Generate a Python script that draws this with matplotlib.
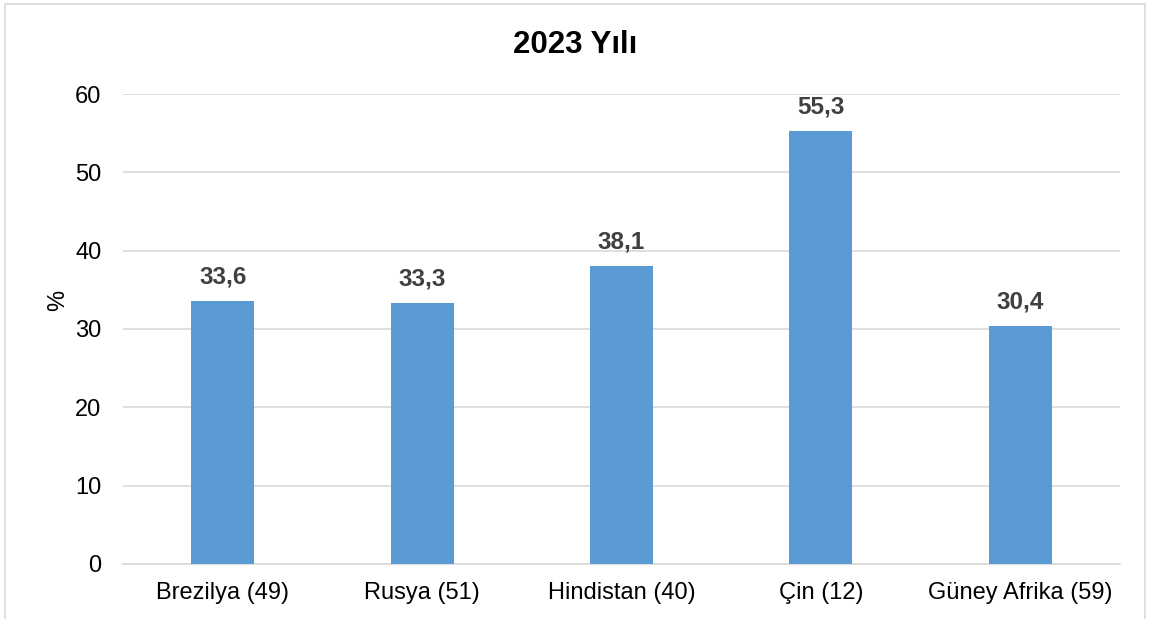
import matplotlib.pyplot as plt
from matplotlib.patches import Rectangle

plt.rcParams['font.family'] = ['Liberation Sans', 'DejaVu Sans']

countries = ['Brezilya (49)', 'Rusya (51)', 'Hindistan (40)', 'Çin (12)', 'Güney Afrika (59)']
values = [33.6, 33.3, 38.1, 55.3, 30.4]
yticks = [0, 10, 20, 30, 40, 50, 60]

fig = plt.figure(figsize=(11.5, 6.19), dpi=100)
ax = fig.add_axes([0.107, 0.089, 0.867, 0.759])

# chart frame
fig.patches.append(Rectangle((5 / 1150, -0.05), 1140 / 1150, 1.05 - 4 / 619,
                             transform=fig.transFigure, fill=False,
                             edgecolor='#D9D9D9', linewidth=1.2))

x = range(len(countries))
bars = ax.bar(x, values, width=0.316, color='#5B9BD5', zorder=3)
for xi, v in zip(x, values):
    ax.text(xi, v + 1.6, f'{v:.1f}'.replace('.', ','), ha='center', va='bottom',
            fontsize=17.5, fontweight='bold', color='#404040')

ax.set_xlim(-0.5, len(countries) - 0.5)
ax.set_ylim(0, 60)
ax.set_yticks(yticks)
ax.set_xticks(list(x))
ax.set_xticklabels(countries)
ax.tick_params(axis='both', length=0, labelsize=17, colors='black')
ax.tick_params(axis='y', pad=15.5)
ax.tick_params(axis='x', pad=13)
ax.grid(axis='y', color='#D9D9D9', linewidth=1.2, zorder=0)
for s in ['top', 'right', 'left']:
    ax.spines[s].set_visible(False)
ax.spines['bottom'].set_color('#D9D9D9')
ax.spines['bottom'].set_linewidth(1.2)

ax.set_ylabel('%', fontsize=17, labelpad=4, y=0.56)
fig.text(0.5, 1 - 45 / 619, '2023 Yılı', ha='center', va='center',
         fontsize=22.5, fontweight='bold')

fig.savefig('out.png', dpi=100)
